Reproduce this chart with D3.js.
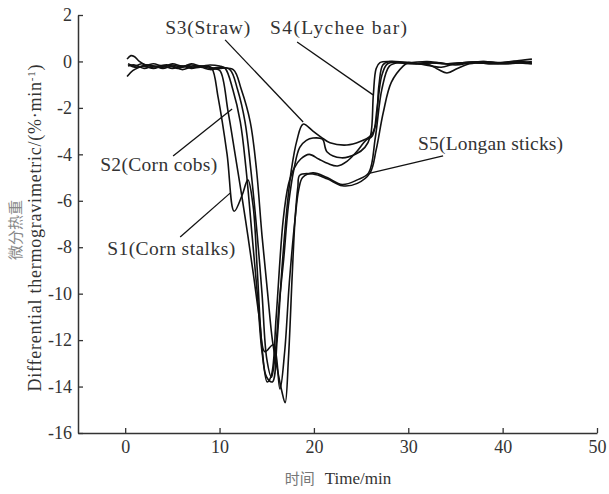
<!DOCTYPE html>
<meta charset="utf-8">
<script src="https://d3js.org/d3.v7.min.js"></script>
<style>
  body { margin: 0; background: #fff; }
  text { font-family: "Liberation Serif", "Times New Roman", serif; }
</style>
<div id="my_dataviz"></div>
<script>

    // DTG curves, time in min, value in %/min
    const s1T = [0.2, 0.8, 1.5, 2.2, 3, 4, 5, 6, 7, 8, 8.7, 9.2, 9.85, 10.8, 11.55, 12.4, 13.0, 13.55, 14.0, 14.5, 15.05, 15.5, 16.0, 16.75, 17.3, 17.9, 18.6, 19.5, 20.5, 21.5, 22.5, 23.5, 24.5, 25.5, 26.2, 26.7, 27.2, 27.8, 29, 31, 33, 35, 37, 39, 41, 43.1];
    const s1V = [-0.65, -0.4, -0.25, -0.15, -0.2, -0.25, -0.1, -0.2, -0.15, -0.25, -0.2, -0.3, -1.55, -4.0, -6.45, -5.75, -5.1, -6.2, -9.0, -12.3, -13.8, -13.5, -11.0, -6.8, -5.3, -4.6, -4.2, -4.0, -4.2, -4.4, -4.5, -4.3, -3.9, -3.4, -3.2, -2.0, -0.6, -0.1, -0.05, -0.1, -0.05, -0.15, -0.05, -0.1, 0, -0.05];

    const s2T = [0.3, 1, 1.8, 2.5, 3.5, 4.5, 5.5, 6.5, 7.5, 8.5, 9.4, 10.05, 10.9, 11.65, 12.4, 13.0, 13.6, 14.2, 14.8, 15.7, 16.4, 16.9, 17.4, 18.0, 18.4, 18.8, 19.9, 21.4, 23.0, 24.6, 25.8, 26.5, 27.2, 28.0, 29, 31, 32.5, 33.5, 35, 37, 39, 41, 43.1];
    const s2V = [-0.1, -0.2, -0.1, -0.25, -0.2, -0.15, -0.3, -0.2, -0.25, -0.2, -0.3, -0.4, -2.15, -4.0, -5.9, -7.5, -9.2, -11.0, -12.5, -12.2, -14.1, -12.5, -9.5, -6.8, -5.5, -5.0, -4.8, -5.0, -5.3, -5.1, -4.8, -3.3, -1.2, -0.2, -0.05, -0.1, -0.2, -0.25, -0.1, -0.05, -0.1, -0.05, -0.1];

    const s3T = [0.2, 0.6, 1.0, 1.5, 2.2, 3, 4, 5, 6, 7, 8, 9, 10.0, 10.6, 11.4, 12.2, 12.8, 13.45, 14.0, 14.5, 15.0, 15.6, 16.1, 16.6, 17.1, 17.6, 18.2, 18.85, 19.9, 20.9, 21.7, 23.5, 24.9, 26.0, 26.5, 26.9, 27.3, 28, 30, 32, 34, 36, 38, 40, 42, 43.1];
    const s3V = [0.1, 0.25, 0.2, 0.0, -0.15, -0.1, -0.2, -0.15, -0.25, -0.1, -0.2, -0.15, -0.2, -0.3, -1.2, -2.6, -4.6, -7.5, -10.0, -12.5, -13.6, -13.8, -12.0, -9.0, -6.5, -4.7, -3.4, -2.7, -3.0, -3.3, -3.5, -3.6, -3.45, -3.2, -2.8, -1.0, -0.15, 0, -0.05, 0, -0.1, -0.05, 0, -0.05, 0.05, 0.1];

    const s4T = [0.3, 1, 2, 3, 4, 5, 6, 7, 8, 9, 10, 11.1, 11.9, 12.7, 13.3, 14.0, 14.5, 15.0, 15.5, 15.9, 16.3, 16.8, 17.3, 17.9, 18.5, 19.2, 19.9, 20.9, 21.4, 22.9, 24.4, 25.4, 26.0, 26.3, 26.6, 27.0, 28, 30, 32, 34, 36, 38, 40, 42, 43.1];
    const s4V = [-0.2, -0.15, -0.3, -0.2, -0.3, -0.2, -0.35, -0.25, -0.2, -0.3, -0.25, -0.35, -1.2, -2.6, -4.6, -7.5, -10.0, -12.8, -13.6, -12.6, -10.5, -8.5, -6.2, -4.6, -3.7, -3.4, -3.3, -3.35, -3.9, -4.15, -4.0, -3.7, -3.2, -1.43, -0.3, -0.05, 0, -0.1, -0.05, -0.1, -0.05, 0, -0.1, -0.05, 0];

    const s5T = [0.4, 1, 2, 3, 4, 5, 6, 7, 8, 9, 10, 11.45, 12.3, 13.25, 13.9, 14.5, 15.1, 15.6, 16.1, 16.6, 16.95, 17.3, 17.7, 18.0, 18.3, 18.5, 19.9, 21.4, 23.0, 24.6, 25.95, 26.6, 27.35, 28.2, 29.45, 30.0, 31, 32.3, 33.2, 34.1, 35.2, 36.5, 38, 40, 42, 43.1];
    const s5V = [-0.15, -0.25, -0.2, -0.3, -0.2, -0.3, -0.2, -0.3, -0.25, -0.35, -0.3, -0.35, -1.2, -2.6, -4.6, -7.5, -10.0, -12.0, -13.2, -14.2, -14.7, -12.8, -9.2, -6.8, -5.4, -4.9, -4.85, -5.05, -5.35, -5.25, -4.8, -3.8, -2.2, -0.9, -0.2, -0.05, -0.1, -0.15, -0.35, -0.5, -0.3, -0.1, -0.05, -0.1, -0.05, -0.1];

    const seriesT = [s1T, s2T, s3T, s4T, s5T];
    const seriesV = [s1V, s2V, s3V, s4V, s5V];

    // annotations: label, text start (t, v), leader from (t, v) to (t, v), text width
    const labels = ["S1(Corn stalks)", "S2(Corn cobs)", "S3(Straw)", "S4(Lychee bar)", "S5(Longan sticks)"];
    const labelAt = [[-1.91, -8.34], [-2.65, -4.72], [4.24, 1.19], [15.36, 1.19], [31.04, -3.81]];
    const leaderFrom = [[5.83, -7.56], [5.08, -4.07], [10.59, 0.93], [18.22, 0.84], [33.69, -4.07]];
    const leaderTo = [[11.12, -5.67], [11.33, -2.05], [18.86, -2.61], [26.27, -1.44], [25.95, -4.81]];
    const labelWidth = [128, 117, 85, 137, 145];

    const xTicks = [0, 10, 20, 30, 40, 50];
    const yTicks = [-16, -14, -12, -10, -8, -6, -4, -2, 0, 2];

    const margin = {top: 15, right: 12, bottom: 61, left: 78},
        width = 609 - margin.left - margin.right,
        height = 494 - margin.top - margin.bottom;

    const svg = d3.select("#my_dataviz")
        .append("svg")
        .attr("width", 609)
        .attr("height", 494)
        .append("g")
        .attr("transform", `translate(${margin.left},${margin.top})`);

    const x = d3.scaleLinear().domain([-5, 50]).range([0, width]);
    const y = d3.scaleLinear().domain([-16, 2]).range([height, 0]);

    // axes, ticks pointing inwards
    const xAxis = svg.append("g")
        .attr("transform", `translate(0, ${height})`)
        .call(d3.axisBottom(x).tickValues(xTicks).tickSizeInner(-5).tickSizeOuter(0).tickPadding(7));
    const yAxis = svg.append("g")
        .call(d3.axisLeft(y).tickValues(yTicks).tickFormat(d3.format("d")).tickSizeInner(-5).tickSizeOuter(0).tickPadding(6));

    [xAxis, yAxis].forEach(a => {
        a.select(".domain").attr("stroke", "#333").attr("stroke-width", 1.5);
        a.selectAll(".tick line").attr("stroke", "#333").attr("stroke-width", 1.3);
        a.selectAll("text")
            .style("font-family", "'Liberation Serif', serif")
            .style("font-size", "18px")
            .attr("fill", "#333");
    });
    yAxis.selectAll("text").text(d => d < 0 ? "-" + Math.abs(d) : d);

    // curves
    const line = d3.line()
        .x(d => x(d[0]))
        .y(d => y(d[1]))
        .curve(d3.curveCatmullRom.alpha(0.5));

    seriesT.forEach((ts, i) => {
        svg.append("path")
            .datum(ts.map((t, j) => [t, seriesV[i][j]]))
            .attr("fill", "none")
            .attr("stroke", "#111")
            .attr("stroke-width", 1.6)
            .attr("d", line);
    });

    // leader lines and labels
    labels.forEach((lab, i) => {
        svg.append("line")
            .attr("x1", x(leaderFrom[i][0])).attr("y1", y(leaderFrom[i][1]))
            .attr("x2", x(leaderTo[i][0])).attr("y2", y(leaderTo[i][1]))
            .attr("stroke", "#111")
            .attr("stroke-width", 1.3);
        svg.append("text")
            .attr("x", x(labelAt[i][0]))
            .attr("y", y(labelAt[i][1]))
            .attr("textLength", labelWidth[i])
            .attr("lengthAdjust", "spacing")
            .style("font-size", "19.5px")
            .attr("fill", "#333")
            .text(lab);
    });

    // axis titles
    const xt = svg.append("text")
        .attr("x", 338 - margin.left)
        .attr("y", 484 - margin.top)
        .attr("text-anchor", "middle")
        .style("font-size", "17px");
    xt.append("tspan").attr("fill", "#777")
        .style("font-family", "'Noto Sans CJK SC', sans-serif").style("font-size", "15px").text("时间");
    xt.append("tspan").attr("fill", "#333").attr("dx", 10).text("Time/min");

    svg.append("text")
        .attr("transform", `translate(${21 - margin.left}, ${230 - margin.top}) rotate(-90)`)
        .attr("text-anchor", "middle")
        .attr("fill", "#888")
        .style("font-family", "'Noto Sans CJK SC', sans-serif")
        .style("font-size", "15px")
        .text("微分热重");

    const yt = svg.append("text")
        .attr("transform", `translate(${41 - margin.left}, ${228 - margin.top}) rotate(-90)`)
        .attr("text-anchor", "middle")
        .attr("fill", "#333")
        .attr("textLength", 327)
        .attr("lengthAdjust", "spacing")
        .style("font-size", "18px");
    yt.append("tspan").text("Differential thermogravimetric/(%·min");
    yt.append("tspan").attr("baseline-shift", "super").style("font-size", "11px").text("-1");
    yt.append("tspan").text(")");

</script>
